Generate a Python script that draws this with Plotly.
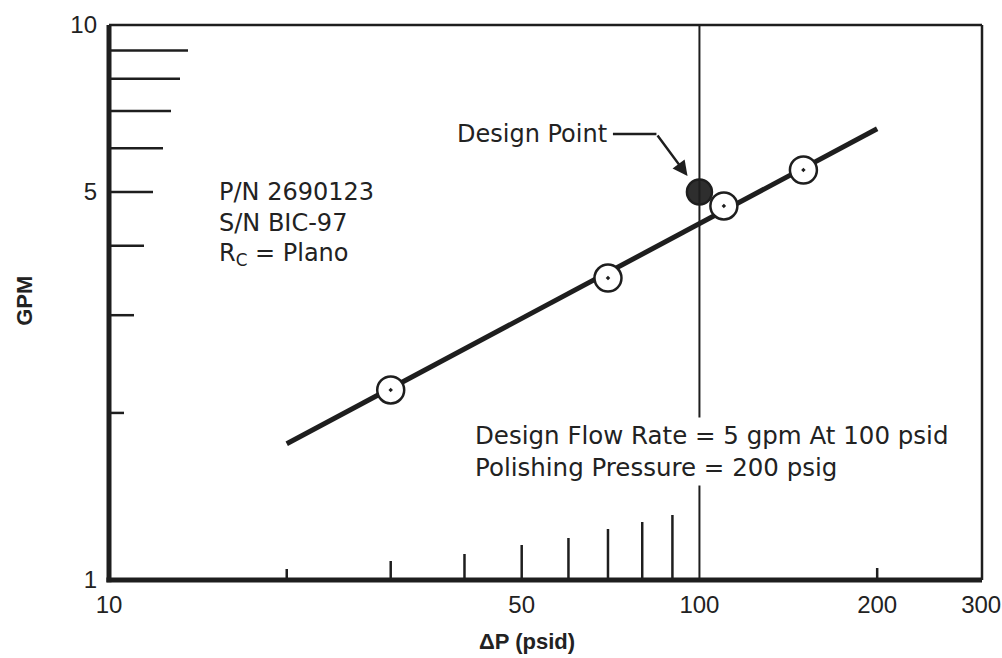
import math
import plotly.graph_objects as go

# ---------------- data ----------------
test_dp = [30, 70, 110, 150]          # psid
test_gpm = [2.2, 3.5, 4.72, 5.48]     # GPM
fit_dp = [20, 200]
fit_gpm = [1.76, 6.5]
design_dp = [100]
design_gpm = [5]

x_tick_vals = [10, 50, 100, 200, 300]
x_tick_text = ["10", "50", "100", "200", "300"]
y_tick_vals = [1, 5, 10]
y_tick_text = ["1", "5", "10"]
x_minor = [20, 30, 40, 50, 60, 70, 80, 90, 200]
y_minor = [2, 3, 4, 5, 6, 7, 8, 9]

# ---------------- style ----------------
x_minor_len = [11, 19, 26, 35, 42, 51, 58, 65, 12]   # px
y_minor_len = [15, 25, 35, 44, 54, 62, 71, 79]       # px
INK = "#1e1e1e"
TXT = "#222222"
FONT = "Liberation Sans, Arial, Helvetica, sans-serif"
TFONT = "DejaVu Sans, Liberation Sans, sans-serif"

fig = go.Figure()

fig.add_trace(go.Scatter(
    x=fit_dp, y=fit_gpm, mode="lines",
    line=dict(color=INK, width=5), hoverinfo="skip", showlegend=False))

fig.add_trace(go.Scatter(
    x=test_dp, y=test_gpm, mode="markers",
    marker=dict(symbol="circle-dot", size=27, color="white",
                line=dict(color=INK, width=2.5)),
    showlegend=False))

fig.add_trace(go.Scatter(
    x=design_dp, y=design_gpm, mode="markers",
    marker=dict(symbol="circle", size=25, color="#2e2e2e",
                line=dict(color=INK, width=2.5)),
    showlegend=False))

shapes = []
# inner ticks on y axis
for v, L in zip(y_minor, y_minor_len):
    shapes.append(dict(type="line", xref="x", yref="y", xsizemode="pixel",
                       xanchor=x_tick_vals[0], x0=0, x1=L, y0=v, y1=v,
                       line=dict(color=INK, width=2.5)))
# inner ticks on x axis
for v, L in zip(x_minor, x_minor_len):
    shapes.append(dict(type="line", xref="x", yref="y", ysizemode="pixel",
                       yanchor=y_tick_vals[0], y0=0, y1=L, x0=v, x1=v,
                       line=dict(color=INK, width=2.5)))
# design pressure reference line
shapes.append(dict(type="line", xref="x", yref="paper", x0=design_dp[0],
                   x1=design_dp[0], y0=0, y1=1, line=dict(color=INK, width=2)))
# frame
shapes += [
    dict(type="line", xref="paper", yref="paper", x0=0, x1=0, y0=-0.004, y1=1,
         line=dict(color=INK, width=5)),
    dict(type="line", xref="paper", yref="paper", x0=-0.003, x1=1, y0=0, y1=0,
         line=dict(color=INK, width=5)),
    dict(type="line", xref="paper", yref="paper", x0=0, x1=1, y0=1, y1=1,
         line=dict(color=INK, width=2.5)),
    dict(type="line", xref="paper", yref="paper", x0=1, x1=1, y0=0, y1=1,
         line=dict(color=INK, width=2.5)),
]

tf = dict(family=TFONT, size=24, color=TXT)
tf_long = dict(family=TFONT, size=24.5, color=TXT)
dx, dy = math.log10(design_dp[0]), math.log10(design_gpm[0])
annotations = [
    dict(xref="paper", yref="paper", x=0.1237, y=0.699, xanchor="left",
         yanchor="middle", text="P/N 2690123", showarrow=False, font=tf),
    dict(xref="paper", yref="paper", x=0.1237, y=0.643, xanchor="left",
         yanchor="middle", text="S/N BIC-97", showarrow=False, font=tf),
    dict(xref="paper", yref="paper", x=0.1237, y=0.587, xanchor="left",
         yanchor="middle", text="R<sub>C</sub> = Plano", showarrow=False, font=tf),
    dict(xref="paper", yref="paper", x=0.415, y=0.261, xanchor="left",
         yanchor="middle", text="Design Flow Rate = 5 gpm At 100 psid",
         showarrow=False, font=tf_long, bgcolor="white", borderpad=3),
    dict(xref="paper", yref="paper", x=0.415, y=0.202, xanchor="left",
         yanchor="middle", text="Polishing Pressure = 200 psig",
         showarrow=False, font=tf_long, bgcolor="white", borderpad=3),
    # Design Point label with horizontal leader ending at the bend
    dict(xref="x", yref="y", x=dx, y=dy, xshift=-43, yshift=58,
         ax=-124, ay=0, axref="pixel", ayref="pixel",
         text="Design Point", showarrow=True, arrowhead=0, arrowwidth=2.5,
         arrowcolor=INK, standoff=0, startstandoff=4, font=tf),
    # diagonal arrow to the design point
    dict(xref="x", yref="y", x=dx, y=dy,
         ax=-43, ay=-58, axref="pixel", ayref="pixel", text="", showarrow=True,
         arrowhead=2, arrowsize=1.2, arrowwidth=2.5, arrowcolor=INK, standoff=20),
    # axis titles
    dict(xref="paper", yref="paper", x=-0.0962, y=0.503, text="GPM",
         xanchor="center", yanchor="middle", textangle=-90, showarrow=False,
         font=dict(family=FONT, size=22, color=TXT, weight="bold")),
    dict(xref="paper", yref="paper", x=0.479, y=-0.1117, text="ΔP (psid)",
         xanchor="center", yanchor="middle", showarrow=False,
         font=dict(family=FONT, size=22, color=TXT, weight="bold")),
]

fig.update_layout(
    width=1002, height=658,
    margin=dict(l=109, r=20, t=25, b=78, autoexpand=False),
    paper_bgcolor="white", plot_bgcolor="white",
    showlegend=False,
    shapes=shapes, annotations=annotations,
    font=dict(family=FONT, size=24, color=TXT),
    xaxis=dict(type="log", range=[1, math.log10(301)], tickvals=x_tick_vals,
               ticktext=x_tick_text, showgrid=False, zeroline=False,
               showline=False, ticks="", ticklabelstandoff=8,
               automargin=False, ticklabeloverflow="allow",
               tickfont=dict(family=FONT, size=24, color=TXT)),
    yaxis=dict(type="log", range=[0, 1], tickvals=y_tick_vals,
               ticktext=y_tick_text, showgrid=False, zeroline=False,
               showline=False, ticks="", ticklabelstandoff=11,
               automargin=False,
               tickfont=dict(family=FONT, size=24, color=TXT)),
)

fig.write_html(
    "out.html",
    config={"displayModeBar": False},
    post_script="document.body.style.margin='0';document.body.style.overflow='hidden';",
)
